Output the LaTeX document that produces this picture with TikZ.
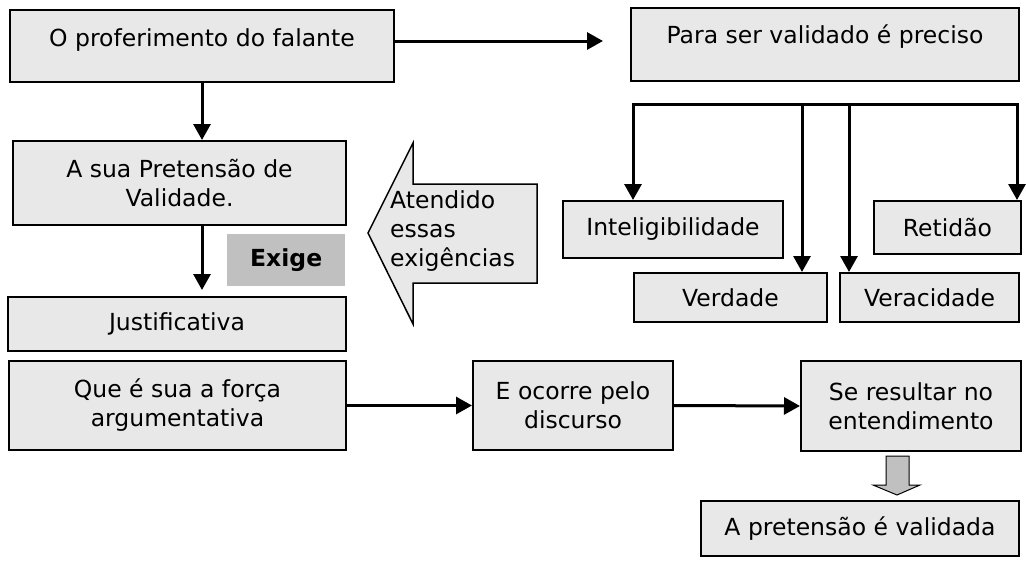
\documentclass[tikz,border=0pt]{standalone}
\usepackage{fontspec}
\setmainfont{DejaVu Sans}
\usetikzlibrary{arrows.meta}
\definecolor{caixacinza}{HTML}{E8E8E8}
\definecolor{exigecinza}{HTML}{C0C0C0}
\newcommand{\letra}{\fontsize{23.5}{29}\selectfont}
\tikzset{
  caixa/.style={draw=black, line width=2pt, fill=caixacinza, anchor=north west,
    inner sep=0pt, align=center, font=\letra},
  seta/.style={line width=3pt, -{Triangle[width=17pt,length=16pt]}},
}

\begin{document}
\begin{tikzpicture}[x=1pt, y=-1pt]
		%%%%% START %%%%%
		\useasboundingbox (0,0) rectangle (1026,560);

		% coluna da esquerda
		\node[caixa, minimum width=384pt, minimum height=72pt, text height=18pt, text depth=17pt] (fala) at (9,9) {O proferimento do falante};
		\node[caixa, minimum width=333pt, minimum height=84pt] (pret) at (12,140) {A sua Pretensão de\\Validade.};
		\node[fill=exigecinza, anchor=north west, inner sep=0pt, minimum width=118pt, minimum height=52pt, font=\letra\bfseries] (exige) at (227,234) {Exige};
		\node[caixa, minimum width=338pt, minimum height=54pt] (just) at (7,296) {Justificativa};
		\node[caixa, minimum width=337pt, minimum height=89pt] (forca) at (8,360) {Que é sua a força\\argumentativa};

		% linha de baixo
		\node[caixa, minimum width=200pt, minimum height=89pt] (disc) at (472,360) {E ocorre pelo\\discurso};
		\node[caixa, minimum width=220pt, minimum height=90pt] (ent) at (800,360) {Se resultar no\\entendimento};
		\node[caixa, minimum width=318pt, minimum height=55pt] (valid) at (700,500) {A pretensão é validada};

		% lado direito
		\node[caixa, minimum width=388pt, minimum height=73pt, text height=18pt, text depth=21pt] (para) at (630,7) {Para ser validado é preciso};
		\node[caixa, minimum width=220pt, minimum height=57pt] (intel) at (562,200) {Inteligibilidade};
		\node[caixa, minimum width=147pt, minimum height=53pt] (ret) at (873,200) {Retidão};
		\node[caixa, minimum width=193pt, minimum height=49pt] (verd) at (633,272) {Verdade};
		\node[caixa, minimum width=179pt, minimum height=49pt] (verac) at (839,272) {Veracidade};

		% setas
		\draw[seta, shorten >=27pt] ([yshift=5pt]fala.east) -- ([yshift=5pt]fala.east -| para.west);
		\draw[seta] (fala.south) -- (pret.north -| fala.south);
		\draw[seta, shorten >=6pt] (pret.south -| fala.south) -- (just.north -| fala.south);
		\draw[seta] (forca.east) -- (disc.west);
		\draw[seta] (disc.east) -- (ent.west);

		\coordinate (b1) at (633,104);
		\coordinate (b2) at (802,104);
		\coordinate (b3) at (849,104);
		\coordinate (b4) at (1017,104);
		\draw[line width=3pt, line cap=rect] (b1) -- (b4);
		\draw[seta] (b1) -- (b1 |- intel.north);
		\draw[seta] (b2) -- (b2 |- verd.north);
		\draw[seta] (b3) -- (b3 |- verac.north);
		\draw[seta] (b4) -- (b4 |- ret.north);

		% seta grande
		\draw[line width=1.5pt, fill=caixacinza] (368,233) -- (413,143) -- (413,184) -- (537,184) -- (537,283) -- (413,283) -- (413,324) -- cycle;
		\node[anchor=west, align=left, inner sep=0pt, font=\letra] (atend) at (390,231) {Atendido\\essas\\exigências};

		% seta para baixo
		\draw[line width=1pt, fill=exigecinza] (886,456) -- (909,456) -- (909,485) -- (920,485) -- (897,495) -- (873,485) -- (886,485) -- cycle;
		%%%%% END %%%%%
\end{tikzpicture}
\end{document}
